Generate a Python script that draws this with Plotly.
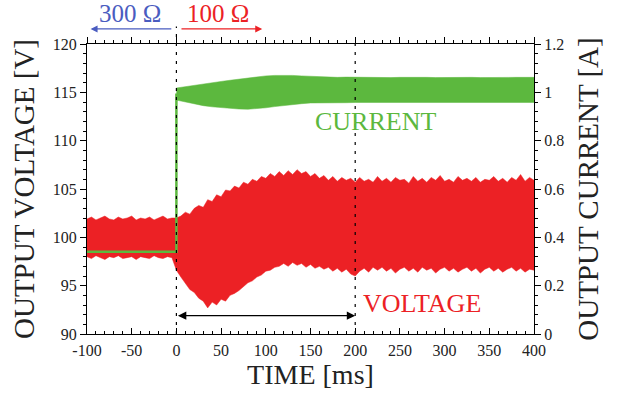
import plotly.graph_objects as go

# Sample grid for the voltage envelope (ms)
t_volt = list(range(-100, 401, 5))

# Upper / lower envelope of the output voltage ripple (V)
volt_hi = [
    101.9, 102.1, 101.8, 102.0, 102.2, 101.9, 101.8, 102.1, 101.9, 102.0,
    102.2, 101.8, 102.0, 101.9, 102.1, 101.8, 102.0, 102.2, 101.9, 102.0,
    102.0, 102.2, 102.6, 102.4, 103.0, 103.3, 103.1, 103.9, 103.7, 104.4,
    104.2, 104.9, 104.8, 105.3, 105.1, 105.7, 105.5, 106.0, 105.8, 106.3,
    106.1, 106.6, 106.3, 106.8, 106.4, 106.9, 106.5, 107.0, 106.6, 106.8,
    106.3, 106.6, 106.1, 106.4, 105.9, 106.3, 105.8, 106.2, 105.9, 106.1,
    105.7, 106.2, 105.8, 106.0, 105.7, 106.3, 105.8, 106.1, 105.7, 106.2,
    105.9, 106.0, 105.6, 106.3, 105.8, 106.1, 105.7, 106.2, 105.9, 106.4,
    105.8, 106.0, 105.7, 106.3, 105.9, 106.1, 105.8, 106.2, 105.7, 106.0,
    105.9, 106.3, 105.8, 106.1, 105.7, 106.2, 105.9, 106.5, 105.8, 106.2,
    105.9,
]
volt_lo = [
    98.0, 97.8, 98.1, 97.9, 97.7, 98.0, 97.9, 98.1, 97.8, 97.9,
    98.0, 97.7, 98.0, 97.9, 97.8, 98.1, 97.9, 97.8, 98.0, 97.9,
    96.6, 95.9, 95.2, 94.6, 94.3, 93.7, 93.4, 92.7, 93.3, 93.0,
    93.6, 93.4, 94.0, 94.2, 94.5, 94.9, 95.3, 95.5, 95.9, 96.1,
    96.5, 96.6, 96.9, 97.0, 97.3, 97.0, 97.4, 97.1, 97.3, 96.9,
    97.2, 96.8, 97.0, 96.7, 96.9, 96.5, 96.8, 96.4, 96.7, 96.2,
    96.0, 96.5, 96.8, 96.4, 96.9, 96.6, 96.9, 96.5, 96.8, 96.3,
    96.7, 96.9, 96.5, 96.8, 96.4, 96.9, 96.6, 96.8, 96.3, 96.7,
    96.9, 96.5, 96.8, 96.4, 96.7, 96.9, 96.5, 96.8, 96.3, 96.7,
    96.9, 96.5, 96.8, 96.4, 96.7, 96.9, 96.5, 96.8, 96.4, 96.7,
    96.6,
]

# Output current: level with the 300 ohm load, then the step at t = 0
t_cur_step = [-100, 0, 0]
cur_step = [0.34, 0.34, 0.995]

# Envelope of the output current with the 100 ohm load (A)
t_cur = list(range(0, 401, 10))
cur_hi = [
    1.018, 1.024, 1.030, 1.035, 1.040, 1.045, 1.050, 1.055, 1.060, 1.064,
    1.068, 1.070, 1.071, 1.070, 1.068, 1.066, 1.064, 1.063, 1.062, 1.063,
    1.062, 1.062, 1.063, 1.062, 1.061, 1.062, 1.063, 1.062, 1.062, 1.061,
    1.062, 1.063, 1.062, 1.062, 1.061, 1.062, 1.063, 1.062, 1.062, 1.062,
    1.062,
]
cur_lo = [
    0.968, 0.960, 0.952, 0.945, 0.940, 0.936, 0.933, 0.931, 0.930, 0.932,
    0.936, 0.941, 0.946, 0.950, 0.953, 0.956, 0.957, 0.958, 0.958, 0.957,
    0.958, 0.958, 0.959, 0.958, 0.957, 0.958, 0.958, 0.959, 0.958, 0.957,
    0.958, 0.958, 0.959, 0.958, 0.958, 0.957, 0.958, 0.958, 0.959, 0.958,
    0.958,
]

x_ticks = list(range(-100, 401, 50))
x_labels = [str(v) for v in x_ticks]

RED = "#ec2125"
GREEN = "#5cb83e"
BLUE = "#4a5cc0"
SERIF = "Liberation Serif, DejaVu Serif, serif"
INK = "#222"

fig = go.Figure()

# Voltage ripple band (left axis)
fig.add_trace(go.Scatter(x=t_volt, y=volt_lo, mode="lines",
                         line=dict(color=RED, width=0.5), hoverinfo="skip",
                         showlegend=False))
fig.add_trace(go.Scatter(x=t_volt, y=volt_hi, mode="lines", fill="tonexty",
                         fillcolor=RED, line=dict(color=RED, width=0.5),
                         hoverinfo="skip", showlegend=False))

# Current (right axis)
fig.add_trace(go.Scatter(x=t_cur_step, y=cur_step, mode="lines", yaxis="y2",
                         line=dict(color=GREEN, width=2.5), showlegend=False))
fig.add_trace(go.Scatter(x=t_cur, y=cur_lo, mode="lines", yaxis="y2",
                         line=dict(color=GREEN, width=0.5), showlegend=False))
fig.add_trace(go.Scatter(x=t_cur, y=cur_hi, mode="lines", yaxis="y2",
                         fill="tonexty", fillcolor=GREEN,
                         line=dict(color=GREEN, width=0.5), showlegend=False))

# Invisible carrier for the top tick axis
fig.add_trace(go.Scatter(x=[x_ticks[0], x_ticks[-1]], y=[None, None],
                         xaxis="x2", mode="lines", showlegend=False,
                         hoverinfo="skip"))

tickfont = dict(family=SERIF, size=16, color=INK)
axis_common = dict(showgrid=False, zeroline=False, showline=True,
                   linecolor="black", linewidth=1.2, tickcolor="black",
                   ticklen=6, tickwidth=1, tickfont=tickfont)

fig.update_layout(
    width=619, height=394,
    margin=dict(l=87, r=85, t=44, b=60),
    paper_bgcolor="white", plot_bgcolor="white",
    xaxis=dict(range=[-100, 400], tickvals=x_ticks, ticktext=x_labels,
               ticks="inside", ticklabelstandoff=2,
               minor=dict(dtick=10, ticks="inside", ticklen=3,
                          tickcolor="black"),
               title=dict(text="TIME [ms]", standoff=2,
                          font=dict(family=SERIF, size=28, color=INK)),
               **axis_common),
    xaxis2=dict(range=[-100, 400], overlaying="x", side="top",
                tickvals=x_ticks, ticks="outside", showticklabels=False,
                minor=dict(dtick=10, ticks="outside", ticklen=3,
                           tickcolor="black"),
                **axis_common),
    yaxis=dict(range=[90, 120], dtick=5, ticks="outside",
               minor=dict(dtick=1, ticks="outside", ticklen=3,
                          tickcolor="black"),
               title=dict(text="OUTPUT VOLTAGE [V]", standoff=9,
                          font=dict(family=SERIF, size=29, color=INK)),
               **axis_common),
    yaxis2=dict(range=[0, 1.2], dtick=0.2, overlaying="y", side="right",
                ticks="outside",
                minor=dict(dtick=0.04, ticks="outside", ticklen=3,
                           tickcolor="black"),
                title=dict(text="OUTPUT CURRENT [A]", standoff=14,
                           font=dict(family=SERIF, size=29, color=INK)),
                **axis_common),
)

# Dashed markers at the load step and at t = 200 ms
fig.add_shape(type="line", xref="x", yref="paper", x0=0, x1=0, y0=0, y1=1.06,
              line=dict(color="black", width=1.2, dash="3px,6px"))
fig.add_shape(type="line", xref="x", yref="paper", x0=200, x1=200, y0=0, y1=1,
              line=dict(color="black", width=1.2, dash="3px,6px"))

# Load labels with direction arrows above the plot
fig.add_annotation(x=-96, y=1.052, xref="x", yref="paper", ax=-4, ay=0,
                   axref="x", ayref="pixel", text="", showarrow=True,
                   arrowhead=2, arrowsize=1, arrowwidth=1.4, arrowcolor=BLUE)
fig.add_annotation(x=96, y=1.052, xref="x", yref="paper", ax=4, ay=0,
                   axref="x", ayref="pixel", text="", showarrow=True,
                   arrowhead=2, arrowsize=1, arrowwidth=1.4, arrowcolor=RED)
fig.add_annotation(x=-52, y=1.105, xref="x", yref="paper", text="300 Ω",
                   yanchor="middle", showarrow=False,
                   font=dict(family=SERIF, size=25, color=BLUE))
fig.add_annotation(x=46, y=1.105, xref="x", yref="paper", text="100 Ω",
                   yanchor="middle", showarrow=False,
                   font=dict(family=SERIF, size=25, color=RED))

# Series labels
fig.add_annotation(x=223, y=112.0, xref="x", yref="y", text="CURRENT",
                   showarrow=False, font=dict(family=SERIF, size=26, color=GREEN))
fig.add_annotation(x=275, y=93.2, xref="x", yref="y", text="VOLTAGE",
                   showarrow=False, font=dict(family=SERIF, size=26, color=RED))

# Double arrow spanning 0-200 ms
fig.add_annotation(x=200, y=91.9, xref="x", yref="y", ax=0, ay=91.9,
                   axref="x", ayref="y", text="", showarrow=True,
                   arrowhead=2, startarrowhead=2, arrowside="end+start",
                   arrowsize=1.2, arrowwidth=1.4, arrowcolor="black")

fig.write_html("out.html")
